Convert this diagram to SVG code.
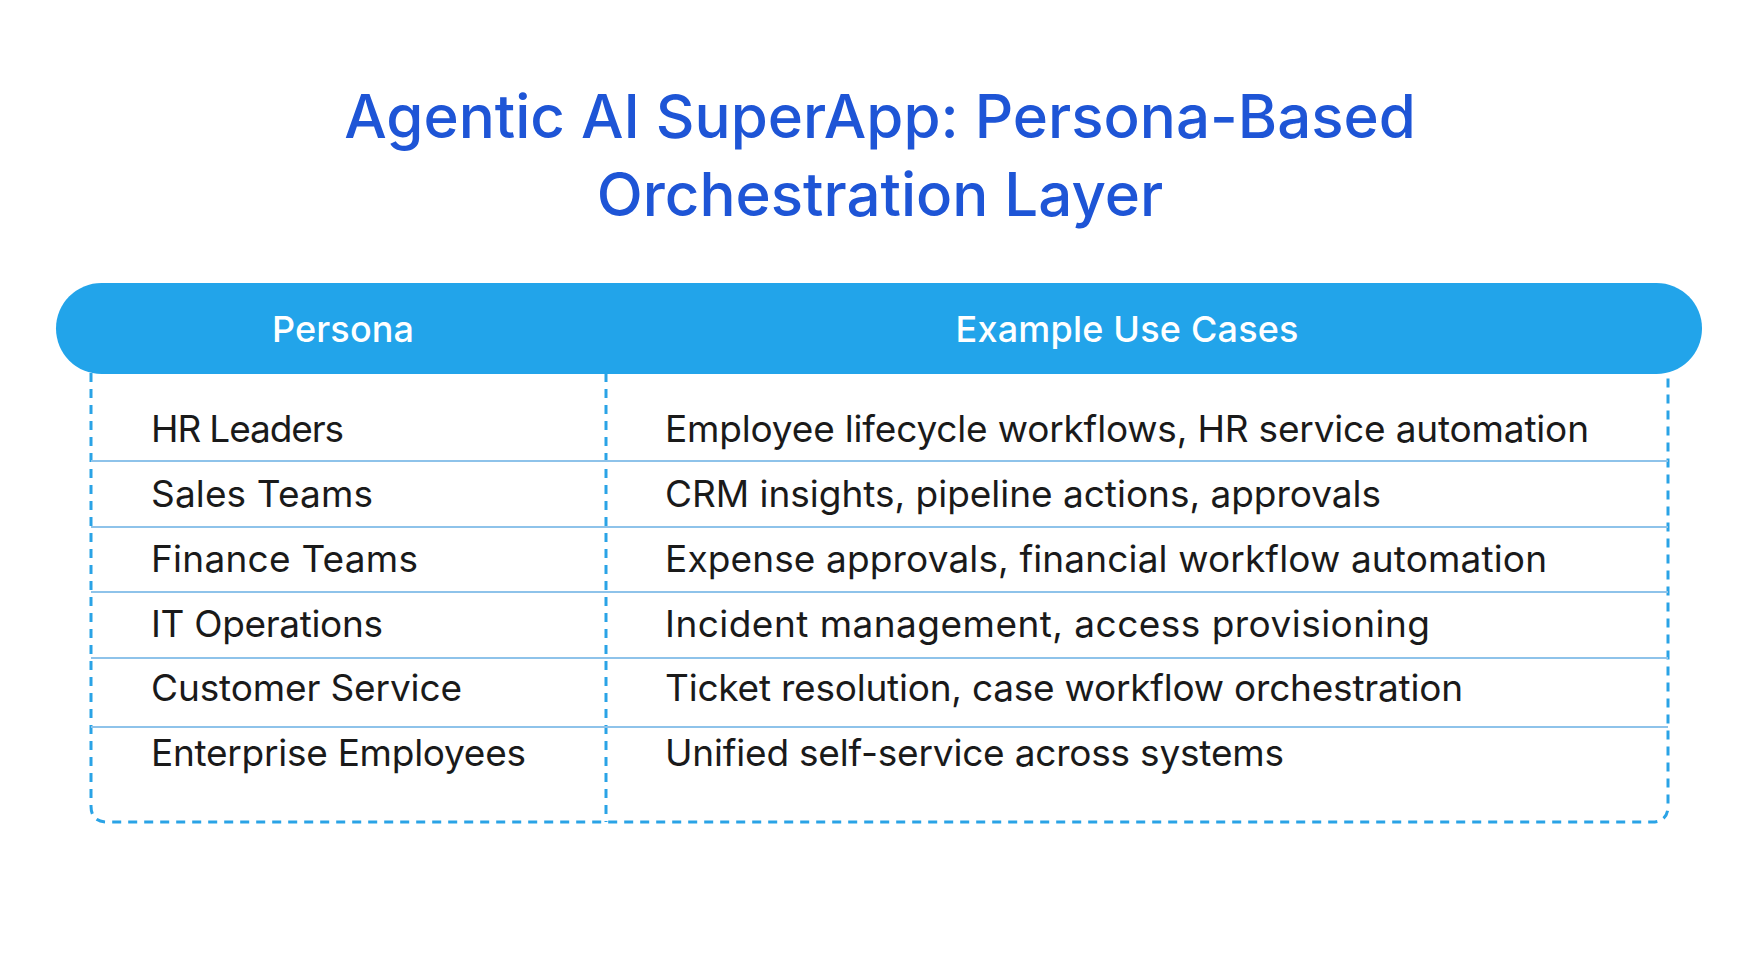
<svg xmlns="http://www.w3.org/2000/svg" width="1750" height="979" viewBox="0 0 1750 979">
<style>
.t{font-family:Inter,"Noto Sans",sans-serif;font-size:37px;fill:#1a1a1a}
.h{font-family:Inter,"Noto Sans",sans-serif;font-size:36px;font-weight:500;fill:#fff}
.ti{font-family:Inter,"Noto Sans",sans-serif;font-size:60px;font-weight:500;fill:#1E55D6}
.rl{stroke:#8EC3EA;stroke-width:2}
.d{stroke:#2AA3E6;stroke-width:3;stroke-dasharray:9 7;fill:none}
</style>
<rect width="1750" height="979" fill="#fff"/>
<g id="title">
<text class="ti" x="880" y="138" text-anchor="middle">Agentic AI SuperApp: Persona-Based</text>
<text class="ti" x="880" y="216" text-anchor="middle">Orchestration Layer</text>
</g>
<g id="frame">
<path class="d" d="M91 373 V806 Q91 822 107 822 H1652 Q1668 822 1668 806 V373"/>
<line class="d" x1="606" y1="373" x2="606" y2="822"/>
</g>
<g id="header">
<rect x="56" y="283" width="1646" height="91" rx="45.5" fill="#22A4EA"/>
<text class="h" x="343" y="342" text-anchor="middle" textLength="142">Persona</text>
<text class="h" x="1127" y="342" text-anchor="middle" textLength="343">Example Use Cases</text>
</g>
<g id="rows">
<line class="rl" x1="91" y1="461" x2="1668" y2="461"/>
<line class="rl" x1="91" y1="527" x2="1668" y2="527"/>
<line class="rl" x1="91" y1="592" x2="1668" y2="592"/>
<line class="rl" x1="91" y1="658" x2="1668" y2="658"/>
<line class="rl" x1="91" y1="727" x2="1668" y2="727"/>
<text class="t" x="151" y="442" textLength="193">HR Leaders</text>
<text class="t" x="665" y="442" textLength="924">Employee lifecycle workflows, HR service automation</text>
<text class="t" x="151" y="507" textLength="222">Sales Teams</text>
<text class="t" x="665" y="507" textLength="716">CRM insights, pipeline actions, approvals</text>
<text class="t" x="151" y="572" textLength="267">Finance Teams</text>
<text class="t" x="665" y="572" textLength="882">Expense approvals, financial workflow automation</text>
<text class="t" x="151" y="637" textLength="232">IT Operations</text>
<text class="t" x="665" y="637" textLength="765">Incident management, access provisioning</text>
<text class="t" x="151" y="701" textLength="311">Customer Service</text>
<text class="t" x="665" y="701" textLength="798">Ticket resolution, case workflow orchestration</text>
<text class="t" x="151" y="766" textLength="375">Enterprise Employees</text>
<text class="t" x="665" y="766" textLength="619">Unified self-service across systems</text>
</g>
</svg>
